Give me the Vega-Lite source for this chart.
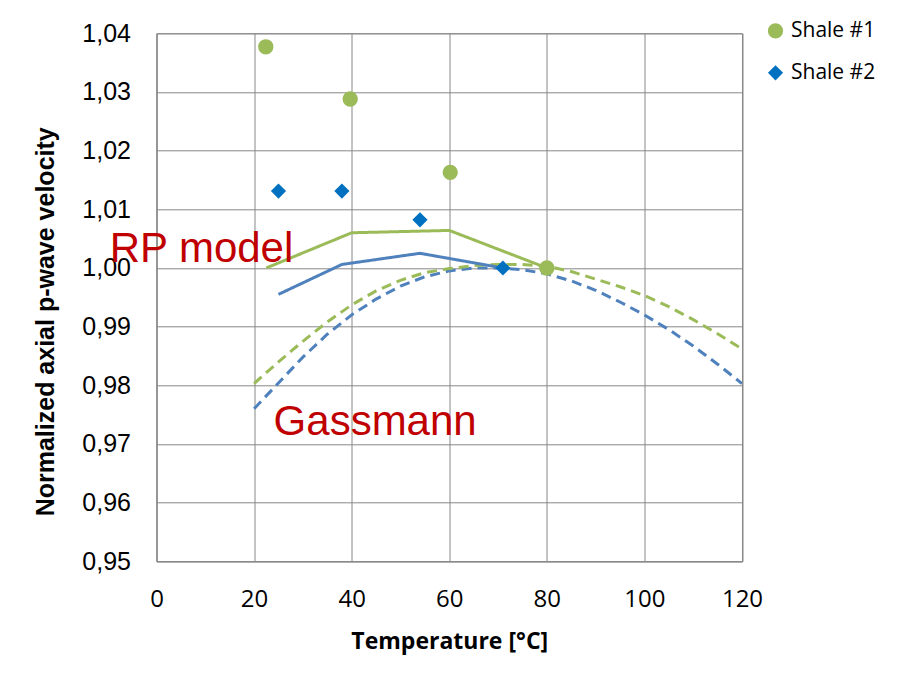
{
  "$schema": "https://vega.github.io/schema/vega-lite/v6.json",
  "width": 585.5,
  "height": 528,
  "autosize": "none",
  "padding": {"left": 156.5, "top": 33.3, "right": 158, "bottom": 119.7},
  "background": "white",
  "datasets": {
    "lines": [
      {"curve": "G2", "t": 20, "v": 0.9760}, {"curve": "G2", "t": 25, "v": 0.9804}, {"curve": "G2", "t": 30, "v": 0.9848},
      {"curve": "G2", "t": 35, "v": 0.9887}, {"curve": "G2", "t": 40, "v": 0.9920}, {"curve": "G2", "t": 45, "v": 0.9947},
      {"curve": "G2", "t": 50, "v": 0.9969}, {"curve": "G2", "t": 55, "v": 0.9985}, {"curve": "G2", "t": 60, "v": 0.9995},
      {"curve": "G2", "t": 65, "v": 1.0000}, {"curve": "G2", "t": 70, "v": 1.0000}, {"curve": "G2", "t": 75, "v": 0.9997},
      {"curve": "G2", "t": 80, "v": 0.9990}, {"curve": "G2", "t": 85, "v": 0.9978}, {"curve": "G2", "t": 90, "v": 0.9962},
      {"curve": "G2", "t": 95, "v": 0.9942}, {"curve": "G2", "t": 100, "v": 0.9920}, {"curve": "G2", "t": 105, "v": 0.9895},
      {"curve": "G2", "t": 110, "v": 0.9867}, {"curve": "G2", "t": 115, "v": 0.9836}, {"curve": "G2", "t": 120, "v": 0.9803},
      {"curve": "G1", "t": 20, "v": 0.9803}, {"curve": "G1", "t": 25, "v": 0.9840}, {"curve": "G1", "t": 30, "v": 0.9875},
      {"curve": "G1", "t": 35, "v": 0.9908}, {"curve": "G1", "t": 40, "v": 0.9937}, {"curve": "G1", "t": 45, "v": 0.9961},
      {"curve": "G1", "t": 50, "v": 0.9979}, {"curve": "G1", "t": 55, "v": 0.9992}, {"curve": "G1", "t": 60, "v": 0.9999},
      {"curve": "G1", "t": 65, "v": 1.0004}, {"curve": "G1", "t": 70, "v": 1.0006}, {"curve": "G1", "t": 75, "v": 1.0006},
      {"curve": "G1", "t": 80, "v": 1.0003}, {"curve": "G1", "t": 85, "v": 0.9994}, {"curve": "G1", "t": 90, "v": 0.9981},
      {"curve": "G1", "t": 95, "v": 0.9968}, {"curve": "G1", "t": 100, "v": 0.9953}, {"curve": "G1", "t": 105, "v": 0.9934},
      {"curve": "G1", "t": 110, "v": 0.9912}, {"curve": "G1", "t": 115, "v": 0.9888}, {"curve": "G1", "t": 120, "v": 0.9862},
      {"curve": "RP2", "t": 25, "v": 0.9955}, {"curve": "RP2", "t": 38, "v": 1.0006}, {"curve": "RP2", "t": 54, "v": 1.0025},
      {"curve": "RP2", "t": 71, "v": 1.0000},
      {"curve": "RP1", "t": 22.5, "v": 1.0000}, {"curve": "RP1", "t": 40, "v": 1.0060}, {"curve": "RP1", "t": 60, "v": 1.0064},
      {"curve": "RP1", "t": 80, "v": 1.0000}
    ],
    "points": [
      {"sample": "Shale #1", "t": 22.4, "v": 1.0377},
      {"sample": "Shale #1", "t": 39.7, "v": 1.0288},
      {"sample": "Shale #1", "t": 60.2, "v": 1.0163},
      {"sample": "Shale #1", "t": 80.0, "v": 1.0000},
      {"sample": "Shale #2", "t": 25.0, "v": 1.0131},
      {"sample": "Shale #2", "t": 38.0, "v": 1.0131},
      {"sample": "Shale #2", "t": 54.0, "v": 1.0082},
      {"sample": "Shale #2", "t": 71.0, "v": 1.0000}
    ],
    "labels": [
      {"label": "RP model", "t": -9.6, "v": 1.00107},
      {"label": "Gassmann", "t": 24.0, "v": 0.9716}
    ]
  },
  "layer": [
    {
      "data": {"name": "lines"},
      "mark": {"type": "line", "strokeWidth": 3, "clip": true},
      "encoding": {
        "x": {"field": "t", "type": "quantitative"},
        "y": {"field": "v", "type": "quantitative"},
        "color": {
          "field": "curve", "type": "nominal",
          "scale": {"domain": ["G2", "G1", "RP2", "RP1"], "range": ["#4F81BD", "#9BBB59", "#4F81BD", "#9BBB59"]},
          "legend": null
        },
        "strokeDash": {
          "field": "curve", "type": "nominal",
          "scale": {"domain": ["G2", "G1", "RP2", "RP1"], "range": [[10, 6], [10, 6], [1, 0], [1, 0]]},
          "legend": null
        }
      }
    },
    {
      "data": {"name": "points"},
      "mark": {"type": "point", "filled": true, "opacity": 1},
      "encoding": {
        "x": {"field": "t", "type": "quantitative"},
        "y": {"field": "v", "type": "quantitative"},
        "color": {
          "field": "sample", "type": "nominal",
          "scale": {"domain": ["Shale #1", "Shale #2"], "range": ["#9BBB59", "#0070C0"]},
          "legend": {"title": null}
        },
        "shape": {
          "field": "sample", "type": "nominal",
          "scale": {"domain": ["Shale #1", "Shale #2"], "range": ["circle", "diamond"]},
          "legend": {"title": null}
        },
        "size": {
          "field": "sample", "type": "nominal",
          "scale": {"domain": ["Shale #1", "Shale #2"], "range": [235, 230]},
          "legend": null
        }
      }
    },
    {
      "data": {"name": "labels"},
      "mark": {"type": "text", "font": "Liberation Sans", "fontSize": 42, "color": "#C00000", "align": "left", "baseline": "alphabetic"},
      "encoding": {
        "x": {"field": "t", "type": "quantitative"},
        "y": {"field": "v", "type": "quantitative"},
        "text": {"field": "label"}
      }
    }
  ],
  "encoding": {
    "x": {
      "field": "t", "type": "quantitative",
      "scale": {"domain": [0, 120], "nice": false, "zero": false},
      "axis": {
        "title": "Temperature [°C]",
        "values": [0, 20, 40, 60, 80, 100, 120],
        "format": "d",
        "labelFont": "Open Sans", "labelFontSize": 24, "labelColor": "#000000", "labelPadding": 26,
        "titleFont": "Open Sans", "titleFontSize": 23, "titleFontWeight": "bold", "titleColor": "#000000",
        "titleBaseline": "middle", "titleY": 80
      }
    },
    "y": {
      "field": "v", "type": "quantitative",
      "scale": {"domain": [0.95, 1.04], "nice": false, "zero": false},
      "axis": {
        "title": "Normalized axial p-wave velocity",
        "values": [0.95, 0.96, 0.97, 0.98, 0.99, 1.0, 1.01, 1.02, 1.03, 1.04],
        "format": ".2f",
        "labelFont": "Liberation Sans", "labelFontSize": 25, "labelColor": "#000000", "labelPadding": 26,
        "titleFont": "Liberation Sans", "titleFontSize": 25, "titleFontWeight": "bold", "titleColor": "#000000",
        "titleBaseline": "middle", "titleAlign": "center", "titleAngle": -90, "titleX": -111.5, "titleY": 288
      }
    }
  },
  "resolve": {"scale": {"color": "independent", "shape": "independent", "size": "independent", "strokeDash": "independent"}},
  "config": {
    "locale": {"number": {"decimal": ",", "thousands": ".", "grouping": [3], "currency": ["", " €"]}},
    "view": {"stroke": "#888888", "strokeWidth": 1},
    "axis": {
      "grid": true, "gridColor": "#888888", "gridWidth": 1, "gridOpacity": 1,
      "domain": true, "domainColor": "#888888", "domainWidth": 1,
      "ticks": false, "labelOverlap": false, "labelFlush": false
    },
    "legend": {
      "orient": "none", "legendX": 608.5, "legendY": -13,
      "labelFont": "Open Sans", "labelFontSize": 21, "labelColor": "#000000",
      "symbolSize": 180, "symbolStrokeWidth": 0, "rowPadding": 20, "labelOffset": 5, "padding": 0
    }
  }
}
